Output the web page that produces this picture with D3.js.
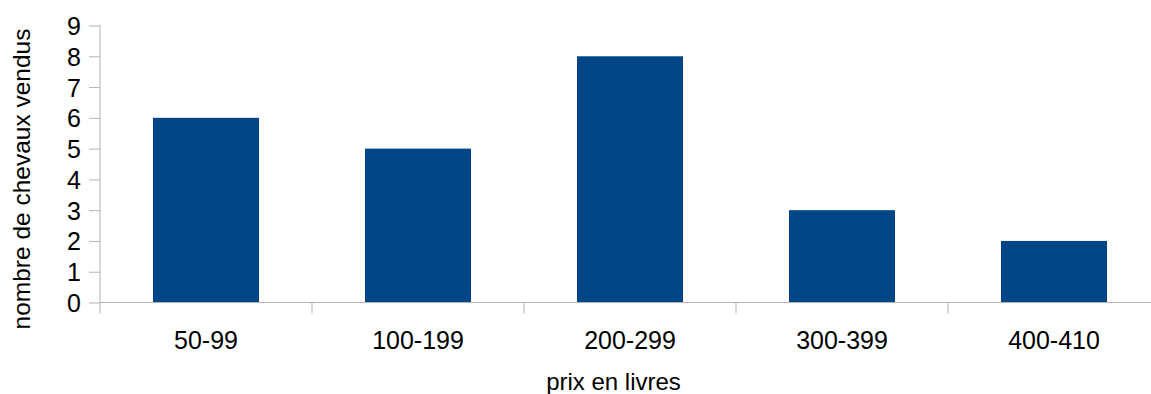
<!DOCTYPE html>
<html>
<head>
<meta charset="utf-8">
<script src="https://cdnjs.cloudflare.com/ajax/libs/d3/7.8.5/d3.min.js"></script>
<style>
  body { margin: 0; background: white; }
  text { font-family: "Liberation Sans", Arial, sans-serif; fill: #000; }
</style>
</head>
<body>
<svg id="chart"></svg>
<script>
var categories = ['50-99', '100-199', '200-299', '300-399', '400-410']
var counts = [6, 5, 8, 3, 2]
var yTicks = [0, 1, 2, 3, 4, 5, 6, 7, 8, 9]
var xTitle = 'prix en livres'
var yTitle = 'nombre de chevaux vendus'

var chartwidth = 1151, chartheight = 394
var plotleft = 100, plotright = 1160, plottop = 25.5, plotbottom = 302.5
var axiscolor = '#b3b3b3'

var svg = d3.select('#chart').attr('width', chartwidth).attr('height', chartheight)

var x = d3.scaleBand().domain(categories).range([plotleft, plotright]).paddingInner(0).paddingOuter(0)
var y = d3.scaleLinear().domain([0, 9]).range([plotbottom, plottop])

// bars, half a band wide
svg.append('g').selectAll('rect').data(counts).enter().append('rect')
  .attr('x', function(d, i){ return x(categories[i]) + x.bandwidth()/4 })
  .attr('width', x.bandwidth()/2)
  .attr('y', function(d){ return y(d) })
  .attr('height', function(d){ return y(0) - y(d) })
  .attr('fill', '#004586')

// y axis
var yAxis = svg.append('g').attr('transform', 'translate(' + plotleft + ',0)')
  .call(d3.axisLeft(y).tickValues(yTicks).tickSize(11).tickPadding(8).tickFormat(d3.format('d')))
yAxis.select('.domain').attr('stroke', axiscolor).attr('d', 'M0,' + plottop + 'V' + plotbottom)
yAxis.selectAll('.tick line').attr('stroke', axiscolor)
yAxis.selectAll('.tick text').style('font-size', '25px').attr('dy', '0.36em')
  .style('font-family', '"Liberation Sans", Arial, sans-serif')

// x axis: ticks at band edges
var xAxis = svg.append('g').attr('transform', 'translate(0,' + plotbottom + ')')
xAxis.append('line').attr('x1', plotleft).attr('x2', plotright).attr('stroke', axiscolor)
xAxis.selectAll('.edge').data(categories).enter().append('line')
  .attr('x1', function(d){ return x(d) }).attr('x2', function(d){ return x(d) })
  .attr('y1', 0).attr('y2', 11).attr('stroke', axiscolor)
xAxis.selectAll('.lbl').data(categories).enter().append('text')
  .attr('x', function(d){ return x(d) + x.bandwidth()/2 })
  .attr('y', 46)
  .attr('text-anchor', 'middle')
  .style('font-size', '25px')
  .text(function(d){ return d })

svg.append('text')
  .attr('x', 613.5).attr('y', 390)
  .attr('text-anchor', 'middle')
  .style('font-size', '24px')
  .text(xTitle)

svg.append('text')
  .attr('transform', 'translate(30,179) rotate(-90)')
  .attr('text-anchor', 'middle')
  .style('font-size', '24.5px')
  .text(yTitle)
</script>
</body>
</html>
